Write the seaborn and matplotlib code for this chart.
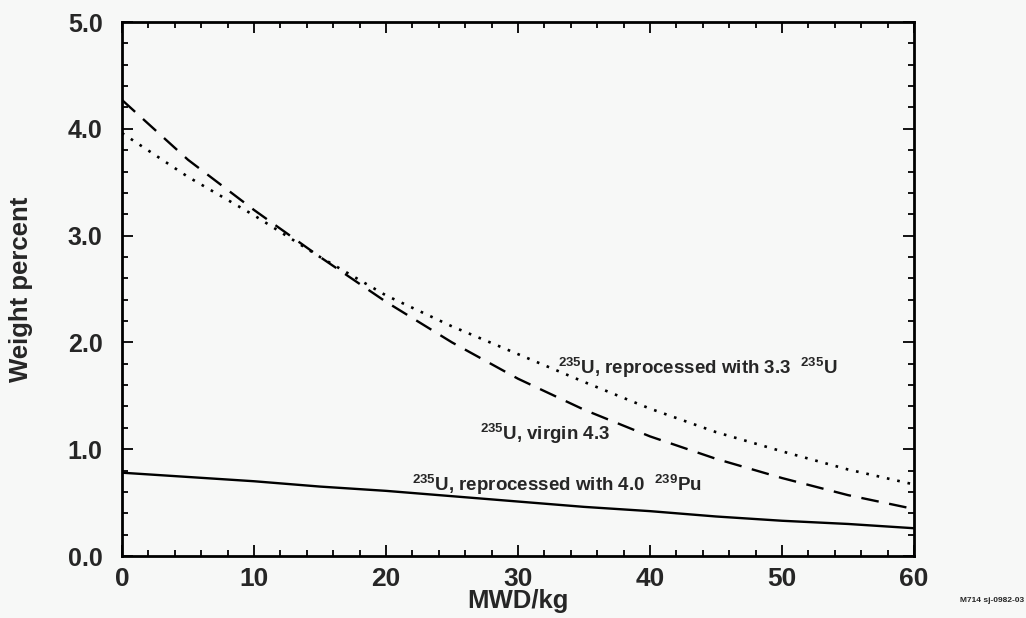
import numpy as np
import pandas as pd
import matplotlib
matplotlib.use("Agg")
import matplotlib.pyplot as plt
from matplotlib.ticker import MultipleLocator
import seaborn as sns

# ---- data ----
burnup = [0, 5, 10, 15, 20, 25, 30, 35, 40, 45, 50, 55, 60]
u235_virgin = [4.27, 3.71, 3.24, 2.80, 2.38, 2.00, 1.66, 1.37, 1.12, 0.91, 0.73, 0.57, 0.44]
u235_rep_u = [3.96, 3.55, 3.19, 2.80, 2.44, 2.15, 1.89, 1.63, 1.38, 1.16, 0.98, 0.81, 0.67]
u235_rep_pu = [0.78, 0.74, 0.70, 0.65, 0.61, 0.56, 0.51, 0.46, 0.42, 0.37, 0.33, 0.30, 0.26]

label_virgin = r"$^{235}$U, virgin 4.3"
label_rep_u = r"$^{235}$U, reprocessed with 3.3  $^{235}$U"
label_rep_pu = r"$^{235}$U, reprocessed with 4.0  $^{239}$Pu"

x_ticks = [0, 10, 20, 30, 40, 50, 60]
y_ticks = [0.0, 1.0, 2.0, 3.0, 4.0, 5.0]

sns.set_style("ticks")
bg = "#f7f8f7"
plt.rcParams["font.family"] = ["Liberation Sans", "DejaVu Sans"]
plt.rcParams["font.weight"] = "bold"
plt.rcParams["mathtext.fontset"] = "custom"
plt.rcParams["mathtext.rm"] = "Liberation Sans:bold"
plt.rcParams["mathtext.bf"] = "Liberation Sans:bold"
plt.rcParams["mathtext.it"] = "Liberation Sans:bold"
plt.rcParams["mathtext.default"] = "rm"

df = pd.DataFrame({
    "MWD/kg": burnup * 3,
    "wt": u235_virgin + u235_rep_u + u235_rep_pu,
    "series": ["virgin"] * len(burnup) + ["rep_u"] * len(burnup) + ["rep_pu"] * len(burnup),
})

fig = plt.figure(figsize=(10.26, 6.18), dpi=100, facecolor=bg)
ax = fig.add_axes([122 / 1026, 1 - 556 / 618, (914 - 122) / 1026, (556 - 22) / 618])
ax.set_facecolor(bg)

sns.lineplot(data=df[df.series == "virgin"], x="MWD/kg", y="wt", ax=ax,
             color="black", lw=1.7, linestyle=(0, (7.5, 4.5)))
sns.lineplot(data=df[df.series == "rep_u"], x="MWD/kg", y="wt", ax=ax,
             color="black", lw=1.9, linestyle=(0, (1, 3.0)))
sns.lineplot(data=df[df.series == "rep_pu"], x="MWD/kg", y="wt", ax=ax,
             color="black", lw=1.7, linestyle="-")

ax.set_xlim(0, 60)
ax.set_ylim(0, 5)
ax.set_xticks(x_ticks)
ax.set_yticks(y_ticks)
ax.set_xticklabels([str(t) for t in x_ticks])
ax.set_yticklabels([f"{t:.1f}" for t in y_ticks])
ax.xaxis.set_minor_locator(MultipleLocator(2))
ax.yaxis.set_minor_locator(MultipleLocator(0.2))
ax.tick_params(which="both", direction="in", top=True, right=True, width=1.3, color="black")
ax.tick_params(which="major", length=8)
ax.tick_params(which="minor", length=4)
ax.tick_params(axis="x", which="major", labelsize=19, pad=8)
ax.tick_params(axis="y", which="major", labelsize=18, pad=14)
for lab in ax.get_xticklabels() + ax.get_yticklabels():
    lab.set_fontweight("bold")
for s in ax.spines.values():
    s.set_linewidth(2.0)
    s.set_color("black")

ax.set_xlabel("MWD/kg", fontsize=18.5, fontweight="bold")
ax.xaxis.set_label_coords(0.5, -0.062)
ax.set_ylabel("Weight percent", fontsize=18.5, fontweight="bold")
ax.yaxis.set_label_coords(-0.112, 0.5)

ax.text(33.0, 1.70, label_rep_u, fontsize=13.5, fontweight="bold", ha="left", va="baseline")
ax.text(27.1, 1.09, label_virgin, fontsize=13.5, fontweight="bold", ha="left", va="baseline")
ax.text(22.0, 0.61, label_rep_pu, fontsize=13.5, fontweight="bold", ha="left", va="baseline")

fig.text(0.998, 0.022, "M714 sj-0982-03", fontsize=6, fontweight="bold", ha="right", va="bottom")

fig.savefig("out.png", dpi=100, facecolor=bg)
